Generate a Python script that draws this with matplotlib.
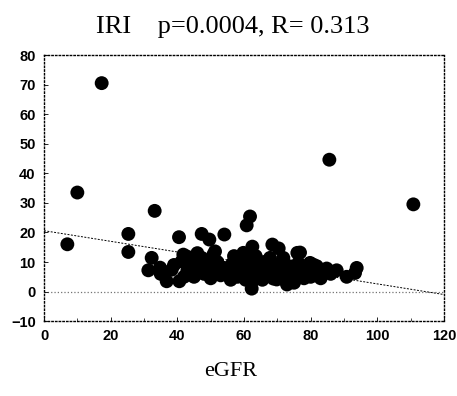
import numpy as np
import matplotlib
matplotlib.use('Agg')
import matplotlib.pyplot as plt

# values (eGFR vs IRI)
egfr = [7, 10, 17.3, 25.3, 25.3, 33.2, 85.6, 110.8,
        40.5, 47.3, 49.6, 54.1, 60.8, 61.8, 62.5, 68.5, 70.4, 76.0, 51.3, 59.8,
        47.3, 67.8, 71.8, 41.8, 41.3, 42.8, 50.8, 32.3, 31.3, 34.8, 36.8, 40.6,
        38.3, 62.3, 68.8, 72.9, 69.8, 76.3, 79.8, 80.8, 84.8, 87.8, 90.8, 93.8,
        93.3, 78.8, 81.8, 76.8,
        43, 45, 46, 48, 49, 50, 51, 52, 53, 54, 55, 56, 56.5, 57, 58, 58.5, 59,
        60, 60.5, 61, 61.5, 62, 62.5, 63, 63.5, 64, 64, 65, 65.5, 66, 66.5, 67,
        68, 69, 70, 71, 72, 73, 74, 74.5, 75, 77, 78, 80, 82, 83, 86, 44, 46,
        57, 35, 39, 42]
iri = [16, 33.5, 70.5, 19.5, 13.4, 27.3, 44.6, 29.5,
       18.4, 19.5, 17.6, 19.3, 22.4, 25.4, 15.2, 15.9, 14.6, 13.1, 13.6, 13.1,
       11.4, 11.4, 11.4, 12.5, 10.2, 11.9, 12.5, 11.4, 7.2, 8.1, 3.5, 3.5,
       7.4, 1.0, 4.4, 2.4, 4.1, 9.7, 9.7, 9.1, 7.8, 7.2, 5.0, 8.0,
       6.3, 6.9, 8.6, 13.2,
       7, 5, 8, 6, 9, 4.5, 7, 10, 5.5, 8, 6, 4, 9.5, 7, 5, 10, 6.5,
       8.5, 4, 11, 6, 9, 3.5, 7, 12, 5, 9, 7, 4, 10, 6, 8,
       5.5, 7.5, 9, 5, 7, 4, 8.5, 5.5, 3, 6, 4.5, 5, 6.5, 4.5, 6, 10, 13,
       12, 6, 9, 5]

fit_intercept = 20.6
fit_slope = -0.18
title_text = 'IRI    p=0.0004, R= 0.313'
x_label = 'eGFR'

fig = plt.figure(figsize=(4.57, 3.96), dpi=100)
ax = fig.add_axes([0.0963, 0.189, 0.8753, 0.672])

ax.axhline(0, color='0.45', ls=':', lw=0.9, zorder=1)
xs = np.array([0, 120])
ax.plot(xs, fit_intercept + fit_slope * xs, color='black', ls=(0, (2, 1.5)), lw=0.7, zorder=2)
ax.scatter(egfr, iri, s=100, color='black', edgecolors='none', zorder=3)

ax.set_xlim(0, 120)
ax.set_ylim(-10, 80)
ax.set_xticks(np.arange(0, 121, 20))
ax.set_yticks(np.arange(-10, 81, 10))
ax.set_xticks(np.arange(0, 121, 10), minor=True)
ax.tick_params(direction='in', length=3, width=0.6, labelsize=10.5)
ax.tick_params(axis='y', pad=6)
ax.tick_params(axis='x', pad=6)
ax.tick_params(which='minor', direction='in', length=2, width=0.5)
for lab in ax.get_xticklabels() + ax.get_yticklabels():
    lab.set_fontfamily('Liberation Sans')
    lab.set_fontweight('bold')

for sp in ax.spines.values():
    sp.set_linestyle(':')
    sp.set_linewidth(1.0)

fig.text(0.51, 0.932, title_text, ha='center', va='center',
         fontsize=19, family='Liberation Serif')
fig.text(0.505, 0.061, x_label, ha='center', va='center',
         fontsize=16, family='Liberation Serif')

fig.savefig('out.png', dpi=100)
